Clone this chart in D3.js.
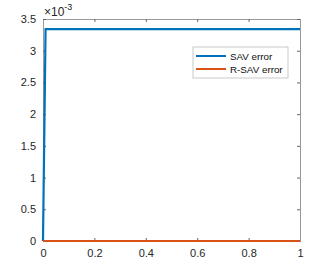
<!DOCTYPE html>
<html>
<head>
<meta charset="utf-8">
<script src="https://d3js.org/d3.v7.min.js"></script>
<style>
  body { margin: 0; background: #fff; }
  text { font-family: "Liberation Sans", Arial, sans-serif; }
</style>
</head>
<body>
<div id="chart"></div>
<script>
// data
var xs = [0, 0.01, 1];
var savErr = [0, 3.34e-3, 3.34e-3];
var rsavErr = [0, 0, 0];
var xTicks = [0, 0.2, 0.4, 0.6, 0.8, 1];
var yTicks = [0, 0.5, 1, 1.5, 2, 2.5, 3, 3.5];
var seriesNames = ["SAV error", "R-SAV error"];
var colors = ["#0072BD", "#D95319"];

var W = 332, H = 271;
var margin = {top: 19, right: 32, bottom: 30, left: 43};
var width = W - margin.left - margin.right,
    height = H - margin.top - margin.bottom;

var svg = d3.select("#chart").append("svg")
    .attr("width", W).attr("height", H);
var g = svg.append("g")
    .attr("transform", "translate(" + margin.left + "," + margin.top + ")");

var x = d3.scaleLinear().domain([0, 1]).range([0, width]);
var y = d3.scaleLinear().domain([0, 3.5]).range([height, 0]);

// axes, MATLAB style ticks pointing inward
var tickCol = "#262626";
g.append("g")
    .attr("transform", "translate(0," + height + ")")
    .call(d3.axisBottom(x).tickValues(xTicks).tickSize(-3).tickPadding(8)
        .tickFormat(function(d){ return String(d); }))
    .call(function(a){ a.select(".domain").attr("stroke", tickCol); });
g.append("g")
    .call(d3.axisTop(x).tickValues(xTicks).tickSize(-3).tickFormat(""))
    .call(function(a){ a.select(".domain").attr("stroke", "#999"); });
g.append("g")
    .call(d3.axisLeft(y).tickValues(yTicks).tickSize(-3).tickPadding(7)
        .tickFormat(function(d){ return String(d); }))
    .call(function(a){ a.select(".domain").attr("stroke", "#999"); });
g.append("g")
    .attr("transform", "translate(" + width + ",0)")
    .call(d3.axisRight(y).tickValues(yTicks).tickSize(-3).tickFormat(""))
    .call(function(a){ a.select(".domain").attr("stroke", "#999"); });

g.selectAll(".tick text")
    .attr("font-size", 11)
    .attr("fill", tickCol)
    .style("font-family", "Liberation Sans, Arial, sans-serif");
g.selectAll(".tick line").attr("stroke", "#666");

// exponent label
var ex = svg.append("text")
    .attr("x", margin.left + 1).attr("y", margin.top - 3)
    .attr("font-size", 12).attr("fill", tickCol);
ex.append("tspan").text("\u00d710");
ex.append("tspan").attr("dy", -6).attr("font-size", 9).text("-3");

// lines
var line = d3.line()
    .x(function(d){ return x(d[0]); })
    .y(function(d){ return y(d[1] * 1000); });

[savErr, rsavErr].forEach(function(s, i) {
    g.append("path")
        .datum(xs.map(function(v, j){ return [v, s[j]]; }))
        .attr("fill", "none")
        .attr("stroke", colors[i])
        .attr("stroke-width", 2.2)
        .attr("d", line);
});

// legend
var lg = svg.append("g").attr("transform", "translate(193,47)");
lg.append("rect")
    .attr("width", 95).attr("height", 31)
    .attr("fill", "#fff").attr("stroke", "#bbb").attr("stroke-width", 0.8);
seriesNames.forEach(function(n, i) {
    var yy = 9 + i * 13;
    lg.append("line")
        .attr("x1", 3).attr("x2", 33).attr("y1", yy).attr("y2", yy)
        .attr("stroke", colors[i]).attr("stroke-width", 2);
    lg.append("text")
        .attr("x", 37).attr("y", yy + 3.5)
        .attr("font-size", 9.8).attr("fill", "#111")
        .text(n);
});
</script>
</body>
</html>
